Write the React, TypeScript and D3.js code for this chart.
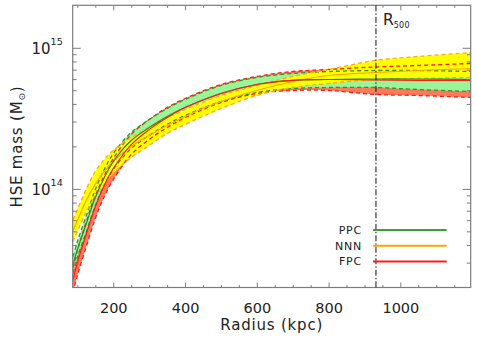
import { useEffect, useRef } from 'react';
import * as d3 from 'd3';

// radius in kpc, masses in units of 1e14 Msun
const radius = [88, 100, 125, 150, 175, 200, 250, 300, 350, 400, 500, 600, 700, 800, 930, 1050, 1196];

const ppcHigh = [0.331, 0.423, 0.647, 0.989, 1.37, 1.78, 2.51, 3.10, 3.71, 4.30, 5.40, 6.16, 6.57, 6.79, 6.90, 6.90, 6.79];
const ppcMid = [0.290, 0.371, 0.568, 0.868, 1.20, 1.56, 2.20, 2.72, 3.26, 3.77, 4.74, 5.49, 5.87, 5.96, 6.01, 6.01, 5.96];
const ppcLow = [0.255, 0.326, 0.498, 0.761, 1.06, 1.37, 1.93, 2.39, 2.86, 3.31, 4.16, 4.82, 5.14, 5.23, 5.23, 5.06, 4.90];

const fpcHigh = [0.277, 0.365, 0.586, 0.897, 1.24, 1.64, 2.43, 3.10, 3.77, 4.37, 5.49, 6.26, 6.79, 7.02, 7.31, 7.49, 7.74];
const fpcMid = [0.227, 0.300, 0.482, 0.749, 1.06, 1.39, 2.06, 2.63, 3.20, 3.77, 4.74, 5.49, 5.87, 5.96, 5.91, 5.87, 5.87];
const fpcLow = [0.184, 0.243, 0.390, 0.616, 0.882, 1.16, 1.75, 2.24, 2.72, 3.20, 4.09, 4.74, 4.98, 4.98, 4.67, 4.59, 4.44];

const nnnHigh = [0.606, 0.713, 1.00, 1.33, 1.62, 1.88, 2.31, 2.72, 3.20, 3.65, 4.59, 5.40, 6.26, 7.02, 8.13, 8.68, 9.26];
const nnnMid = [0.506, 0.596, 0.830, 1.08, 1.33, 1.57, 2.00, 2.39, 2.81, 3.26, 4.16, 4.98, 5.77, 6.36, 6.68, 6.90, 7.13];
const nnnLow = [0.423, 0.498, 0.690, 0.880, 1.08, 1.29, 1.67, 2.03, 2.47, 2.86, 3.71, 4.59, 5.23, 5.58, 5.96, 6.06, 6.16];

const xTicks = [200, 400, 600, 800, 1000];
const xMinor = [100, 150, 250, 300, 350, 450, 500, 550, 650, 700, 750, 850, 900, 950, 1050, 1100, 1150];
const yTicks = [1e14, 1e15];
const yExp = ['14', '15'];
const yMinor = [3e13, 4e13, 5e13, 6e13, 7e13, 8e13, 9e13, 2e14, 3e14, 4e14, 5e14, 6e14, 7e14, 8e14, 9e14];
const legendNames = ['PPC', 'NNN', 'FPC'];
const r500 = 932;

function App() {
  const ref = useRef(null);
  const width = 477;
  const height = 343;
  const left = 72.7;
  const right = 470.7;
  const top = 5.3;
  const bottom = 287.5;
  const font = '"DejaVu Sans", sans-serif';
  const axisColor = '#7c7c7c';

  useEffect(() => {
    const svg = d3.select(ref.current);
    svg.selectAll('*').remove();

    const x = d3.scaleLinear().domain([87, 1196]).range([left, right]);
    const y = d3.scaleLog().domain([2e13, 2e15]).range([bottom, top]);

    const series = [
      { name: 'FPC', lo: fpcLow, mid: fpcMid, hi: fpcHigh, fill: '#fb7a5c', dash: '#ff1a1a', line: '#ff1a1a' },
      { name: 'PPC', lo: ppcLow, mid: ppcMid, hi: ppcHigh, fill: '#98f598', dash: '#2e952e', line: '#2e8a2e' },
      { name: 'NNN', lo: nnnLow, mid: nnnMid, hi: nnnHigh, fill: '#ffff00', dash: '#ffa81a', line: '#ffa500' },
    ];

    svg.append('defs').append('clipPath').attr('id', 'plotclip')
      .append('rect')
      .attr('x', left)
      .attr('y', top)
      .attr('width', right - left)
      .attr('height', bottom - top);

    const plot = svg.append('g').attr('clip-path', 'url(#plotclip)');

    const curve = d3.curveCatmullRom.alpha(0.5);

    const area = (s) => d3.area()
      .x((d, i) => x(radius[i]))
      .y0((d, i) => y(s.lo[i] * 1e14))
      .y1((d, i) => y(s.hi[i] * 1e14))
      .curve(curve);

    const line = (vals) => d3.line()
      .x((d, i) => x(radius[i]))
      .y((d, i) => y(vals[i] * 1e14))
      .curve(curve);

    series.forEach((s) => {
      plot.append('path')
        .attr('d', area(s)(radius))
        .attr('fill', s.fill);
    });

    series.forEach((s) => {
      [s.lo, s.hi].forEach((vals) => {
        plot.append('path')
          .attr('d', line(vals)(radius))
          .attr('fill', 'none')
          .attr('stroke', s.dash)
          .attr('stroke-width', 1.3)
          .attr('stroke-dasharray', '4,3');
      });
    });

    [series[2], series[1], series[0]].forEach((s) => {
      plot.append('path')
        .attr('d', line(s.mid)(radius))
        .attr('fill', 'none')
        .attr('stroke', s.line)
        .attr('stroke-width', 1.2);
    });

    // axes, ticks pointing inward on all four sides
    const styleAxis = (g) => {
      g.select('.domain').remove();
      g.selectAll('line').attr('stroke', axisColor);
      g.selectAll('text').attr('fill', '#222').attr('font-family', font);
    };

    svg.append('g')
      .attr('transform', `translate(0,${bottom})`)
      .call(d3.axisBottom(x).tickValues(xTicks).tickFormat(d3.format('d'))
        .tickSizeInner(-5).tickSizeOuter(0).tickPadding(15))
      .call(styleAxis)
      .selectAll('text')
      .attr('font-size', 14.5);

    svg.append('g')
      .attr('transform', `translate(0,${bottom})`)
      .call(d3.axisBottom(x).tickValues(xMinor).tickSize(-2.5).tickFormat(() => ''))
      .call(styleAxis);

    svg.append('g')
      .attr('transform', `translate(0,${top})`)
      .call(d3.axisTop(x).tickValues(xTicks).tickSize(-5).tickFormat(() => ''))
      .call(styleAxis);

    svg.append('g')
      .attr('transform', `translate(0,${top})`)
      .call(d3.axisTop(x).tickValues(xMinor).tickSize(-2.5).tickFormat(() => ''))
      .call(styleAxis);

    const yLeft = svg.append('g')
      .attr('transform', `translate(${left},0)`)
      .call(d3.axisLeft(y).tickValues(yTicks).tickSizeInner(-8).tickSizeOuter(0).tickPadding(10).tickFormat(() => ''))
      .call(styleAxis);

    yLeft.selectAll('.tick text')
      .attr('font-size', 15)
      .attr('dy', '0.36em')
      .each(function (d, i) {
        const t = d3.select(this);
        t.text('10');
        t.append('tspan')
          .attr('font-size', 9.5)
          .attr('dy', '-0.95em')
          .text(yExp[i]);
      });

    svg.append('g')
      .attr('transform', `translate(${left},0)`)
      .call(d3.axisLeft(y).tickValues(yMinor).tickSize(-4).tickFormat(() => ''))
      .call(styleAxis);

    svg.append('g')
      .attr('transform', `translate(${right},0)`)
      .call(d3.axisRight(y).tickValues(yTicks).tickSize(-8).tickFormat(() => ''))
      .call(styleAxis);

    svg.append('g')
      .attr('transform', `translate(${right},0)`)
      .call(d3.axisRight(y).tickValues(yMinor).tickSize(-4).tickFormat(() => ''))
      .call(styleAxis);

    svg.append('rect')
      .attr('x', left)
      .attr('y', top)
      .attr('width', right - left)
      .attr('height', bottom - top)
      .attr('fill', 'none')
      .attr('stroke', axisColor)
      .attr('stroke-width', 1.2);

    // R500 marker
    svg.append('line')
      .attr('x1', x(r500))
      .attr('x2', x(r500))
      .attr('y1', top)
      .attr('y2', bottom)
      .attr('stroke', '#111')
      .attr('stroke-width', 1)
      .attr('stroke-dasharray', '6,2,1.5,2');

    const rLabel = svg.append('text')
      .attr('x', x(r500) + 7)
      .attr('y', 25)
      .attr('font-family', font)
      .attr('font-size', 15.5)
      .attr('fill', '#222')
      .text('R');
    rLabel.append('tspan')
      .attr('font-size', 8)
      .attr('dy', 2.5)
      .attr('letter-spacing', 0.3)
      .text('500');

    // legend
    const legendColors = ['#3a9f3a', series[2].line, series[0].line];
    legendNames.forEach((n, i) => {
      const ly = 230 + i * 15.7;
      svg.append('line')
        .attr('x1', 373)
        .attr('x2', 446.7)
        .attr('y1', ly)
        .attr('y2', ly)
        .attr('stroke', legendColors[i])
        .attr('stroke-width', 2);
      svg.append('text')
        .attr('x', 362)
        .attr('y', ly + 4)
        .attr('text-anchor', 'end')
        .attr('font-family', font)
        .attr('font-size', 11)
        .attr('letter-spacing', 0.8)
        .attr('fill', '#222')
        .text(n);
    });

    // axis titles
    svg.append('text')
      .attr('x', 271.7)
      .attr('y', 330)
      .attr('text-anchor', 'middle')
      .attr('font-family', font)
      .attr('font-size', 15)
      .attr('letter-spacing', 0.8)
      .attr('fill', '#222')
      .text('Radius (kpc)');

    const yt = svg.append('text')
      .attr('transform', 'translate(21.5,146.5) rotate(-90)')
      .attr('text-anchor', 'middle')
      .attr('font-family', font)
      .attr('font-size', 15)
      .attr('letter-spacing', 0.8)
      .attr('fill', '#222')
      .text('HSE mass (M');
    yt.append('tspan')
      .attr('font-size', 9)
      .attr('dy', 3)
      .text('⊙');
    yt.append('tspan')
      .attr('dy', -3)
      .text(')');
  }, []);

  return (
    <svg
      ref={ref}
      width={width}
      height={height}
      style={{ position: 'absolute', left: 0, top: 0, background: '#fff' }}
    />
  );
}

export default App;
